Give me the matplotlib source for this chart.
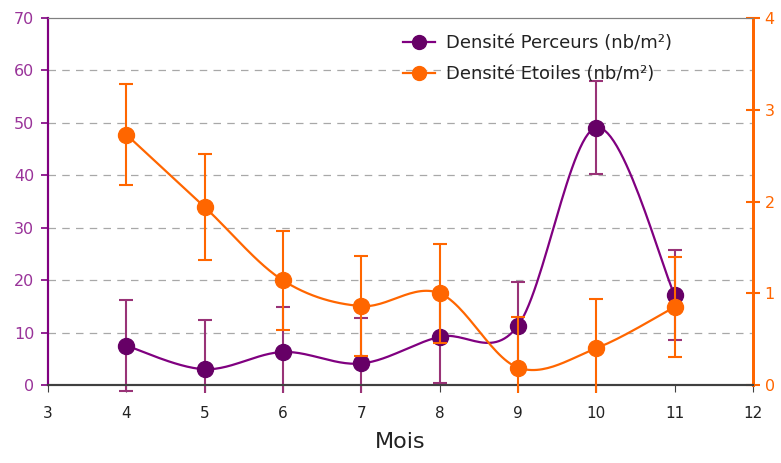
import numpy as np
import matplotlib.pyplot as plt
from matplotlib.patches import Rectangle
from matplotlib.lines import Line2D

# monthly densities
mois = [4, 5, 6, 7, 8, 9, 10, 11]
perceurs = [7.5, 3.0, 6.3, 4.1, 9.2, 11.3, 49.1, 17.2]
perceurs_err = [8.7, 9.4, 8.6, 8.7, 8.9, 8.4, 8.8, 8.6]
etoiles = [2.73, 1.94, 1.14, 0.86, 1.0, 0.19, 0.40, 0.85]
etoiles_err = [0.55, 0.58, 0.54, 0.545, 0.54, 0.55, 0.54, 0.545]

PURPLE = '#800080'
PURPLE_DARK = '#660066'
PURPLE_ERR = '#993377'
ORANGE = '#FF6600'


def smooth(x, y, n=30):
    # bezier smoothing through every point (catmull-rom style, tension 1/6)
    x = np.asarray(x, float)
    y = np.asarray(y, float)
    p = np.column_stack([x, y])
    p = np.vstack([p[0], p, p[-1]])
    out = []
    t = np.linspace(0, 1, n)[:, None]
    for i in range(1, len(p) - 2):
        p0, p3 = p[i], p[i + 1]
        c1 = p0 + (p[i + 1] - p[i - 1]) / 6
        c2 = p3 - (p[i + 2] - p[i]) / 6
        seg = (1 - t) ** 3 * p0 + 3 * (1 - t) ** 2 * t * c1 + 3 * (1 - t) * t ** 2 * c2 + t ** 3 * p3
        out.append(seg)
    out = np.vstack(out)
    return out[:, 0], out[:, 1]


fig = plt.figure(figsize=(7.81, 4.63), dpi=100)
ax = fig.add_axes([0.0615, 0.1685, 0.9025, 0.7925])
ax2 = ax.twinx()

ax.set_xlim(3, 12)
ax.set_ylim(0, 70)
ax2.set_ylim(0, 4)

for v in range(10, 70, 10):
    ax.axhline(v, color='#a8a8a8', lw=0.9, ls=(0, (6, 5)), zorder=0)

# purple series on left axis
clip1 = Rectangle((3, -1.5), 9, 75, transform=ax.transData, visible=False)
ax.add_patch(clip1)
xs, ys = smooth(mois, perceurs)
ax.plot(xs, ys, color=PURPLE, lw=1.6, zorder=3)
eb = ax.errorbar(mois, perceurs, yerr=perceurs_err, fmt='none', ecolor=PURPLE_ERR,
                 elinewidth=1.5, capsize=5, capthick=1.5, zorder=3)
for art in eb.lines[1] + eb.lines[2]:
    art.set_clip_path(clip1)
ax.plot(mois, perceurs, 'o', color=PURPLE_DARK, ms=11.5, zorder=4)

# orange series on right axis
clip2 = Rectangle((3, -0.09), 9, 5, transform=ax2.transData, visible=False)
ax2.add_patch(clip2)
xs, ys = smooth(mois, etoiles)
ax2.plot(xs, ys, color=ORANGE, lw=1.6, zorder=3)
eb2 = ax2.errorbar(mois, etoiles, yerr=etoiles_err, fmt='none', ecolor=ORANGE,
                   elinewidth=1.5, capsize=5, capthick=1.5, zorder=3)
for art in eb2.lines[1] + eb2.lines[2]:
    art.set_clip_path(clip2)
ax2.plot(mois, etoiles, 'o', color=ORANGE, ms=11.5, zorder=4)

# axes styling
ax.set_xticks(range(3, 13))
ax.set_yticks(range(0, 71, 10))
ax2.set_yticks(range(0, 5))
ax.tick_params(axis='x', colors='#404040', labelcolor='#222222', labelsize=11,
               direction='out', length=5, pad=10)
ax.tick_params(axis='y', colors=PURPLE, labelcolor='#993399', labelsize=11.5,
               direction='out', length=5, width=1.2, pad=5)
ax2.tick_params(axis='y', colors=ORANGE, labelcolor=ORANGE, labelsize=11.5,
                direction='inout', length=10, width=1.5)

for a in (ax, ax2):
    a.spines['top'].set_color('#808080')
    a.spines['bottom'].set_color('#404040')
    a.spines['bottom'].set_linewidth(1.5)
    a.spines['left'].set_color(PURPLE)
    a.spines['left'].set_linewidth(1.5)
    a.spines['right'].set_color(ORANGE)
    a.spines['right'].set_linewidth(2)

ax.set_xlabel('Mois', fontsize=16, color='#222222', labelpad=8)

handles = [
    Line2D([], [], color=PURPLE, lw=1.6, marker='o', ms=10, mfc=PURPLE_DARK, mec=PURPLE_DARK),
    Line2D([], [], color=ORANGE, lw=1.6, marker='o', ms=10, mfc=ORANGE, mec=ORANGE),
]
ax2.legend(handles, ['Densité Perceurs (nb/m²)', 'Densité Etoiles (nb/m²)'],
           loc='upper left', bbox_to_anchor=(0.48, 1.0), frameon=False,
           fontsize=13, handlelength=1.8, handletextpad=0.6, labelspacing=0.7,
           labelcolor='#222222')

fig.savefig('out.png', dpi=100)
